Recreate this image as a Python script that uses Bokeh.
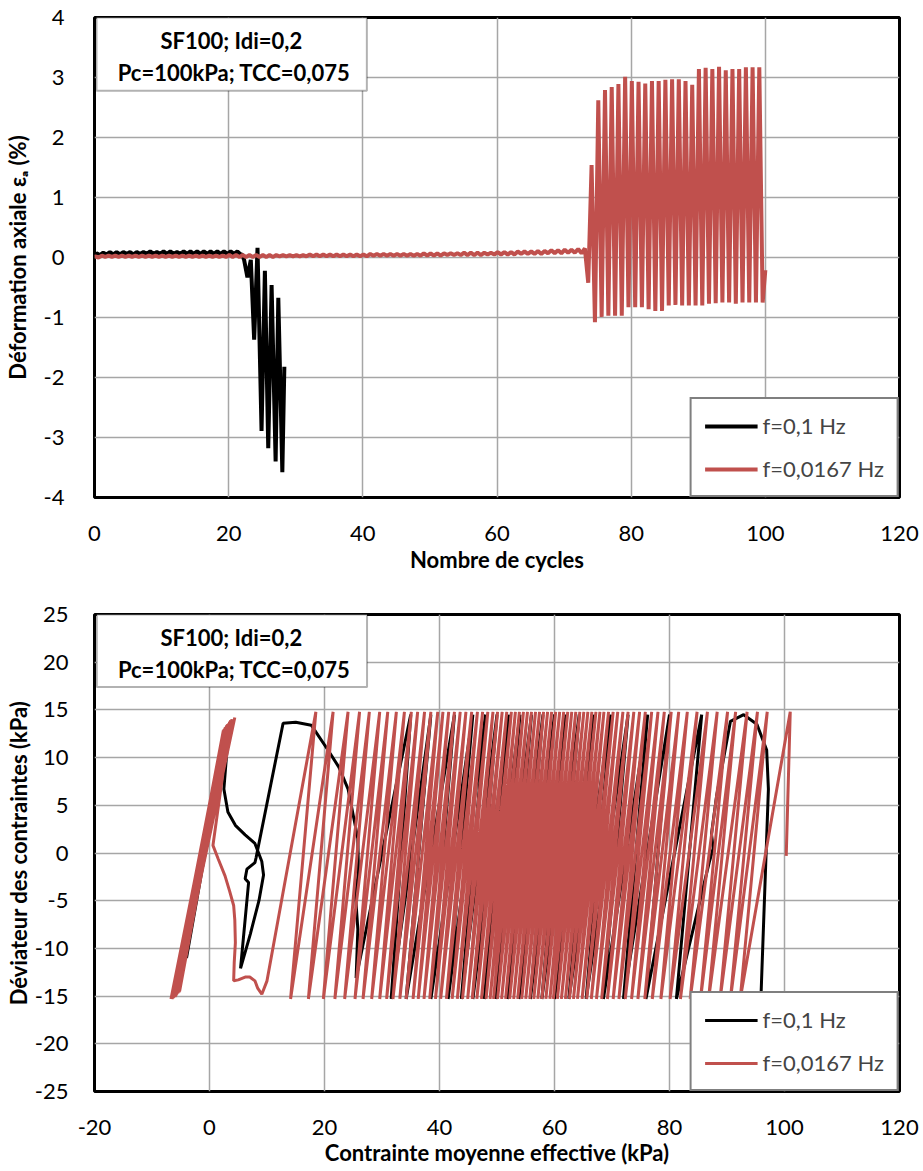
from bokeh.plotting import figure
from bokeh.models import (Range1d, FixedTicker, Legend, LegendItem, BoxAnnotation, Label)
from bokeh.layouts import column
from bokeh.embed import file_html
from bokeh.resources import INLINE

FONT = "Lato"
RED = "#C0504D"
BLACK = "#000000"

# ---------------- Top chart data: axial strain (%) vs number of cycles ----------------
# f = 0.1 Hz : small oscillations (cycles 0..21), peaks and troughs per cycle
black_small_peak = [0.07, 0.08, 0.09, 0.09, 0.09, 0.09, 0.09, 0.09, 0.10, 0.09, 0.10,
                    0.10, 0.09, 0.10, 0.10, 0.10, 0.10, 0.10, 0.10, 0.10, 0.10, 0.10]
black_small_trough = [0.04, 0.05, 0.05, 0.05, 0.06, 0.05, 0.06, 0.06, 0.06, 0.06, 0.06,
                      0.06, 0.06, 0.06, 0.06, 0.06, 0.06, 0.06, 0.06, 0.06, 0.06, 0.05]
# f = 0.1 Hz : large strain phase (cycle position, strain)
black_large_cyc = [22.0, 22.3, 22.8, 23.3, 23.8, 24.3, 24.9, 25.4, 25.9, 26.4, 27.0, 27.4, 28.0, 28.3]
black_large_val = [0.05, -0.04, -0.33, -0.04, -1.37, 0.16, -2.89, -0.22, -3.18, -0.46, -3.40, -0.67, -3.58, -1.82]

# f = 0.0167 Hz : small oscillations (cycles 0..72)
red_small_peak = [0.02, 0.03, 0.03, 0.03, 0.03, 0.03, 0.03, 0.03, 0.03, 0.03,
                  0.03, 0.03, 0.03, 0.03, 0.03, 0.03, 0.03, 0.03, 0.03, 0.03,
                  0.04, 0.04, 0.04, 0.04, 0.04, 0.04, 0.04, 0.04, 0.04, 0.04,
                  0.04, 0.04, 0.05, 0.05, 0.05, 0.05, 0.05, 0.05, 0.05, 0.05,
                  0.05, 0.06, 0.06, 0.06, 0.06, 0.06, 0.06, 0.06, 0.06, 0.07,
                  0.07, 0.07, 0.07, 0.07, 0.07, 0.08, 0.08, 0.08, 0.08, 0.08,
                  0.09, 0.09, 0.09, 0.10, 0.10, 0.10, 0.11, 0.11, 0.12, 0.12,
                  0.13, 0.13, 0.14]
red_small_trough = [0.00, 0.01, 0.01, 0.01, 0.01, 0.01, 0.01, 0.01, 0.01, 0.01,
                    0.01, 0.01, 0.01, 0.01, 0.01, 0.01, 0.01, 0.01, 0.01, 0.01,
                    0.01, 0.01, 0.01, 0.01, 0.01, 0.01, 0.01, 0.02, 0.02, 0.02,
                    0.02, 0.02, 0.02, 0.02, 0.02, 0.02, 0.02, 0.02, 0.02, 0.02,
                    0.02, 0.03, 0.03, 0.03, 0.03, 0.03, 0.03, 0.03, 0.03, 0.03,
                    0.03, 0.03, 0.04, 0.04, 0.04, 0.04, 0.04, 0.04, 0.05, 0.05,
                    0.05, 0.05, 0.05, 0.06, 0.06, 0.06, 0.06, 0.07, 0.07, 0.07,
                    0.08, 0.08, 0.07]
# f = 0.0167 Hz : large strain phase (cycles 73..99)
red_large_peak = [0.15, 1.54, 2.62, 2.79, 2.84, 2.89, 3.01, 2.94, 2.93, 2.90, 2.94, 2.94, 2.96, 2.97,
                  2.97, 2.94, 2.88, 3.14, 3.16, 3.14, 3.18, 3.12, 3.14, 3.14, 3.17, 3.17, 3.17]
red_large_trough = [-0.42, -1.08, -0.99, -0.97, -0.97, -0.97, -0.83, -0.83, -0.83, -0.86, -0.89, -0.89, -0.80, -0.79,
                    -0.80, -0.80, -0.80, -0.80, -0.77, -0.76, -0.75, -0.75, -0.77, -0.75, -0.75, -0.75, -0.75]
red_end = (100.0, -0.21)

top_x_ticks = [0, 20, 40, 60, 80, 100, 120]
top_y_ticks = [-4, -3, -2, -1, 0, 1, 2, 3, 4]

# ---------------- Bottom chart data: q (kPa) vs p' (kPa) ----------------
Q_TOP = 14.8
Q_BOT = -15.3
# f = 0.0167 Hz, regular cycles 0..73: p' at the top (q max) and bottom (q min) of each cycle
red_top_p = [101.0, 97.0, 95.3, 93.5, 91.5, 90.1, 88.3, 86.6, 84.8, 83.1, 81.6, 80.3, 79.1, 78.0,
             76.9, 75.8, 74.8, 73.8, 72.8, 71.9, 71.0, 70.2, 69.4, 68.6, 67.9, 67.2, 66.5, 65.8,
             65.1, 64.4, 63.7, 63.0, 62.3, 61.6, 60.9, 60.2, 59.5, 58.8, 58.1, 57.4, 56.7, 56.0,
             55.3, 54.6, 53.9, 53.2, 52.5, 51.7, 50.9, 50.1, 49.3, 48.4, 47.5, 46.6, 45.6, 44.6,
             43.6, 42.6, 41.6, 40.6, 39.7, 38.5, 37.4, 36.2, 35.1, 33.9, 32.5, 31.0, 29.6, 27.8,
             26.1, 24.1, 21.5, 18.5]
red_bot_p = [92.3, 90.6, 88.8, 86.8, 85.4, 83.6, 81.9, 80.1, 78.5, 77.0, 75.7, 74.5, 73.4,
             72.3, 71.2, 70.2, 69.2, 68.2, 67.3, 66.4, 65.6, 64.8, 64.0, 63.3, 62.6, 61.9, 61.2,
             60.5, 59.8, 59.2, 58.5, 57.8, 57.1, 56.4, 55.7, 55.0, 54.3, 53.6, 52.9, 52.2, 51.5,
             50.8, 50.1, 49.4, 48.8, 48.1, 47.3, 46.5, 45.7, 44.9, 44.0, 43.1, 42.2, 41.2, 40.2,
             39.3, 38.3, 37.3, 36.3, 35.4, 34.2, 33.1, 31.9, 30.8, 29.6, 28.2, 26.7, 25.3, 23.5,
             21.8, 19.8, 17.2, 14.1]
red_start = (100.3, -0.3)
# liquefaction onset path
red_liq_p = [10.0, 9.1, 8.4, 7.9, 7.0, 6.2, 5.0, 4.2, 4.3, 4.5, 4.4, 4.2, 3.5, 2.7, 1.5, 0.6]
red_liq_q = [-13.4, -14.8, -14.2, -13.4, -13.0, -13.0, -13.3, -13.4, -11.5, -9.4, -7.0, -5.5, -4.0, -2.4, -0.6, 0.8]
# butterfly cycles
red_but_top_p = [3.6, 2.9, 3.3, 2.6, 3.1, 2.4, 3.0, 3.5, 2.7, 3.2, 2.5, 3.4, 2.8, 3.7, 3.0, 2.4, 3.1, 3.9,
                 2.7, 3.3, 2.9, 3.6, 2.5, 3.2, 4.1]
red_but_top_q = [13.8, 13.2, 13.5, 12.9, 13.4, 12.8, 13.3, 13.7, 13.0, 13.5, 12.9, 13.6, 13.1, 13.9, 13.3,
                 12.8, 13.4, 14.0, 13.1, 13.5, 13.2, 13.8, 12.9, 13.4, 14.0]
red_but_bot_p = [-5.4, -6.1, -5.7, -6.5, -5.9, -6.3, -5.2, -6.0, -5.6, -6.6, -5.8, -6.2, -5.3, -6.4, -5.9,
                 -6.1, -5.5, -6.7, -5.8, -6.0, -5.4, -6.3, -5.7, -6.5, -5.9]
red_but_bot_q = [-14.6, -15.1, -14.8, -15.2, -14.9, -15.0, -14.5, -15.1, -14.7, -15.3, -14.9, -15.0, -14.6,
                 -15.2, -14.8, -15.1, -14.7, -15.3, -14.9, -15.0, -14.6, -15.2, -14.8, -15.3, -15.0]
red_final = (4.4, 14.2)

# f = 0.1 Hz
black_start_p = [95.9, 97.2, 96.9, 95.2, 92.9, 90.6, 88.2, 87.3, 87.6, 86.9]
black_start_q = [-15.2, 6.7, 10.8, 13.5, 14.5, 13.8, 6.0, 2.0, 0.5, -1.0]
black_bot_p = [81.2, 75.9, 72.0, 68.5, 65.5, 62.5, 60.0, 57.8, 55.8, 53.8, 51.8, 49.8, 47.8,
               45.8, 43.8, 41.5, 38.5, 34.2, 31.6, 25.5]
black_top_p = [85.6, 80.0, 76.2, 72.8, 69.8, 66.8, 64.3, 62.0, 60.0, 58.0, 56.0, 54.0, 52.0,
               50.0, 48.0, 45.8, 42.6, 38.5, 35.0]
black_liq_p = [25.8, 25.4, 25.9, 25.8, 24.1, 22.5, 20.6, 17.7, 15.0, 12.8, 8.1, 7.9, 6.5, 6.2, 6.8, 5.4,
               7.1, 8.6, 9.4, 9.1, 7.9, 6.2, 4.5, 3.2, 2.5, 3.0, 3.3]
black_liq_q = [-8.0, -4.5, -2.0, 1.5, 6.7, 9.0, 10.8, 13.4, 13.7, 13.6, -0.5, -1.0, -1.7, -2.7, -3.1, -12.1,
               -8.5, -5.0, -2.3, -0.9, 1.0, 1.9, 2.9, 4.3, 6.7, 10.5, 12.5]
black_but_bot_p = [-3.8, -4.3, -4.0, -4.6, -3.5]
black_but_bot_q = [-9.5, -10.5, -11.0, -11.5, -8.5]
black_but_top_p = [2.8, 3.0, 2.6, 2.9]
black_but_top_q = [12.5, 12.9, 12.2, 12.6]

bot_x_ticks = [-20, 0, 20, 40, 60, 80, 100, 120]
bot_y_ticks = [-25, -20, -15, -10, -5, 0, 5, 10, 15, 20, 25]

# ---------------- build paths ----------------
tb_x, tb_y = [0.0], [0.02]
for i, (pk, tr) in enumerate(zip(black_small_peak, black_small_trough)):
    tb_x += [i + 0.3, i + 0.8]
    tb_y += [pk, tr]
tb_x += black_large_cyc
tb_y += black_large_val

tr_x, tr_y = [0.0], [0.01]
for i, (pk, trg) in enumerate(zip(red_small_peak, red_small_trough)):
    tr_x += [i + 0.1, i + 0.6]
    tr_y += [pk, trg]
for j, (pk, trg) in enumerate(zip(red_large_peak, red_large_trough)):
    c = 73 + j
    tr_x += [c + 0.1, c + 0.6]
    tr_y += [pk, trg]
tr_x.append(red_end[0]); tr_y.append(red_end[1])

br_p, br_q = [red_start[0], red_top_p[0]], [red_start[1], Q_TOP]
for b, t in zip(red_bot_p, red_top_p[1:]):
    br_p += [b, t]
    br_q += [Q_BOT, Q_TOP]
br_p += red_liq_p
br_q += red_liq_q
for tp, tq, bp, bq in zip(red_but_top_p, red_but_top_q, red_but_bot_p, red_but_bot_q):
    br_p += [tp, bp]
    br_q += [tq, bq]
br_p.append(red_final[0]); br_q.append(red_final[1])

bb_p, bb_q = list(black_start_p), list(black_start_q)
for k, b in enumerate(black_bot_p):
    bb_p.append(b)
    bb_q.append(Q_BOT if k < len(black_bot_p) - 1 else -13.1)
    if k < len(black_top_p):
        bb_p.append(black_top_p[k])
        bb_q.append(Q_TOP - 0.3)
bb_p += black_liq_p
bb_q += black_liq_q
for k, (bp, bq) in enumerate(zip(black_but_bot_p, black_but_bot_q)):
    bb_p.append(bp); bb_q.append(bq)
    if k < len(black_but_top_p):
        bb_p.append(black_but_top_p[k]); bb_q.append(black_but_top_q[k])


def style(p, xt, yt):
    p.xaxis.ticker = FixedTicker(ticks=xt)
    p.yaxis.ticker = FixedTicker(ticks=yt)
    p.xaxis.major_label_overrides = {v: str(v) for v in xt}
    p.yaxis.major_label_overrides = {v: str(v) for v in yt}
    p.xgrid.ticker = FixedTicker(ticks=xt)
    p.ygrid.ticker = FixedTicker(ticks=yt)
    for ax in (p.xaxis, p.yaxis):
        ax.major_tick_line_color = None
        ax.minor_tick_line_color = None
        ax.axis_line_color = None
        ax.major_label_text_font = FONT
        ax.major_label_text_font_size = "22px"
        ax.major_label_text_color = "#000000"
        ax.axis_label_text_font = FONT
        ax.axis_label_text_font_size = "22px"
        ax.axis_label_text_font_style = "bold"
        ax.axis_label_text_color = "#000000"
    p.grid.grid_line_color = "#a6a6a6"
    p.grid.grid_line_width = 1.5
    p.outline_line_color = "#000000"
    p.outline_line_width = 3
    p.background_fill_color = "white"
    p.border_fill_color = "white"


def add_legend(p, r_black, r_red):
    leg = Legend(items=[LegendItem(label="f=0,1 Hz", renderers=[r_black]),
                        LegendItem(label="f=0,0167 Hz", renderers=[r_red])],
                 location="bottom_right", margin=0, padding=13, spacing=16,
                 glyph_width=53, glyph_height=26, label_standoff=5,
                 label_text_font=FONT, label_text_font_size="22px",
                 border_line_color="#000000", border_line_width=2,
                 background_fill_color="white", background_fill_alpha=1)
    p.add_layout(leg)


def add_box(p, left, right, top, bottom, l1, l2):
    p.add_layout(BoxAnnotation(left=left, right=right, top=top, bottom=bottom,
                               fill_color="white", fill_alpha=1, line_color="#000000", line_width=2))
    for (x, y, t) in (l1, l2):
        p.add_layout(Label(x=x, y=y, text=t, text_align="center", text_baseline="middle",
                           text_font=FONT, text_font_style="bold", text_font_size="22px",
                           text_color="#000000"))


# ---------------- top figure ----------------
p1 = figure(width=923, height=590, output_backend="svg", toolbar_location=None,
            x_range=Range1d(0, 120), y_range=Range1d(-4, 4),
            min_border_left=93, min_border_right=24, min_border_top=17, min_border_bottom=93)
style(p1, top_x_ticks, top_y_ticks)
p1.xaxis.axis_label = "Nombre de cycles"
p1.yaxis.axis_label = "Déformation axiale εₐ (%)"
p1.xaxis.major_label_standoff = 22
p1.xaxis.axis_label_standoff = 2
p1.yaxis.major_label_standoff = 24
p1.yaxis.axis_label_standoff = 10
rb1 = p1.line(tb_x, tb_y, line_color=BLACK, line_width=4)
rr1 = p1.line(tr_x, tr_y, line_color=RED, line_width=4)
add_legend(p1, rb1, rr1)
add_box(p1, 0.3, 40.6, 4.0, 2.78,
        (20.4, 3.62, "SF100; Idi=0,2"), (20.8, 3.09, "Pc=100kPa; TCC=0,075"))

# ---------------- bottom figure ----------------
p2 = figure(width=923, height=578, output_backend="svg", toolbar_location=None,
            x_range=Range1d(-20, 120), y_range=Range1d(-25, 25),
            min_border_left=93, min_border_right=24, min_border_top=24, min_border_bottom=73)
style(p2, bot_x_ticks, bot_y_ticks)
p2.xaxis.axis_label = "Contrainte moyenne effective (kPa)"
p2.yaxis.axis_label = "Déviateur des contraintes (kPa)"
p2.xaxis.major_label_standoff = 22
p2.xaxis.axis_label_standoff = 1
p2.yaxis.major_label_standoff = 20
p2.yaxis.axis_label_standoff = 0
rb2 = p2.line(bb_p, bb_q, line_color=BLACK, line_width=3)
rr2 = p2.line(br_p, br_q, line_color=RED, line_width=3)
add_legend(p2, rb2, rr2)
add_box(p2, -19.6, 27.4, 25.0, 17.4,
        (3.8, 22.6, "SF100; Idi=0,2"), (4.3, 19.2, "Pc=100kPa; TCC=0,075"))

layout = column(p1, p2)
open("out.html", "w").write(file_html(layout, INLINE))
